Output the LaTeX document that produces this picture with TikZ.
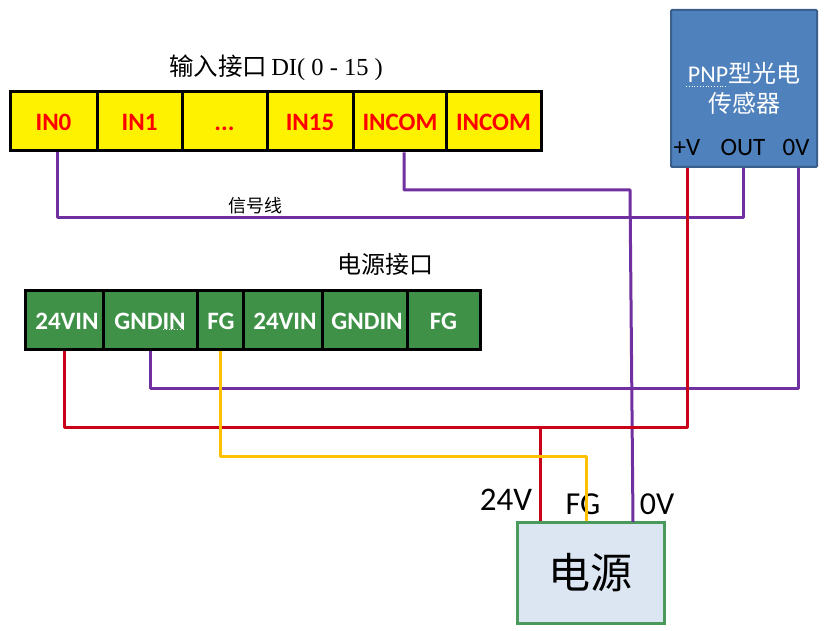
\documentclass[tikz,border=0pt]{standalone}
\usepackage{fontspec}
\setmainfont{Carlito}
\newfontfamily\cjk{Noto Sans CJK SC}
\newfontfamily\serifl{Liberation Serif}
\definecolor{wirered}{HTML}{C80018}
\definecolor{wirepurple}{HTML}{7030A0}
\definecolor{wireorange}{HTML}{FFC000}
\definecolor{cellgreen}{HTML}{3F9148}
\definecolor{sensorblue}{HTML}{4F81BD}
\definecolor{sensoredge}{HTML}{3A5F8C}
\definecolor{powerfill}{HTML}{DCE6F2}
\definecolor{poweredge}{HTML}{4A9A5C}
\tikzset{
  cellbase/.style={draw=black,line width=3pt,inner sep=0pt,minimum height=59pt,text height=19pt,text depth=0pt},
  incell/.style={cellbase,fill=yellow,text=red,font=\fontsize{25}{27}\selectfont\bfseries},
  pwcell/.style={cellbase,fill=cellgreen,text=white,font=\fontsize{25}{27}\selectfont\bfseries},
  wire/.style={line width=3pt,line join=round},
  redwire/.style={wire,draw=wirered},
  purplewire/.style={wire,draw=wirepurple},
  orangewire/.style={wire,draw=wireorange},
  cap24/.style={text=black,inner sep=0pt},
  term/.style={font=\fontsize{25}{27}\selectfont,text=black,inner sep=0pt},
  squiggle/.style={white,dotted,line width=.8pt},
}
\begin{document}
\begin{tikzpicture}[x=1pt,y=-1pt]
\useasboundingbox (0,0) rectangle (830,631);
% titles
\node[inner sep=0pt,font=\fontsize{24.5}{27}\selectfont] (titlein) at (276,68) {{\cjk 输入接口}\,{\serifl DI( 0 - 15 )}};
\node[inner sep=0pt,font=\cjk\fontsize{24}{26}\selectfont] (titlepw) at (385,264) {电源接口};
% input row
\node[incell,minimum width=87pt] (in0) at (53.5,121.5) {IN0};
\node[incell,minimum width=85pt] (in1) at (139.5,121.5) {IN1};
\node[incell,minimum width=85pt] (indots) at (224.5,121.5) {...};
\node[incell,minimum width=86pt] (in15) at (310,121.5) {IN15};
\node[incell,minimum width=94pt] (incoma) at (400,121.5) {INCOM};
\node[incell,minimum width=95pt] (incomb) at (493.5,121.5) {INCOM};
% power row
\node[pwcell,minimum width=78pt] (pa) at (64,319.5) {\hspace{6pt}24VIN};
\node[pwcell,minimum width=94pt] (pb) at (150,319.5) {GNDIN};
\node[pwcell,minimum width=46pt] (pc) at (220,319.5) {\hspace{2pt}FG};
\node[pwcell,minimum width=79pt] (pd) at (282.5,319.5) {\hspace{5pt}24VIN};
\node[pwcell,minimum width=85pt] (pe) at (364.5,319.5) {\hspace{5pt}GNDIN};
\node[pwcell,minimum width=73pt] (pf) at (443.5,319.5) {FG};
\draw[squiggle] (163,329.5) -- (185,329.5);
% sensor
\node[draw=sensoredge,fill=sensorblue,line width=2pt,minimum width=146pt,minimum height=157pt,inner sep=0pt,rounded corners=1pt] (sensor) at (744,88.5) {};
\node[inner sep=0pt,text=white,font=\fontsize{24}{26}\selectfont] (sensorname) at (744,91) {\begin{tabular}{@{}c@{}}PNP{\cjk 型光电}\\[2pt]{\cjk 传感器}\end{tabular}};
\draw[squiggle] (686,86.5) -- (728,86.5);
\node[term] (tv) at (687,147) {+V};
\node[term] (tout) at (743,147) {OUT};
\node[term] (tz) at (796,147) {0V};
% power supply
\node[draw=poweredge,fill=powerfill,line width=3pt,minimum width=147pt,minimum height=101pt,inner sep=0pt,font=\cjk\fontsize{42}{44}\selectfont] (psu) at (590.5,572.5) {电源};
\node[cap24,font=\fontsize{33}{35}\selectfont] (l24) at (506,500) {24V};
\node[cap24,font=\fontsize{32}{34}\selectfont] (lfg) at (583,504) {FG};
\node[cap24,font=\fontsize{32}{34}\selectfont] (l0v) at (657,504) {0V};
% helpers
\coordinate (redbus) at (540,427);
\coordinate (sigbus) at (57,218);
\coordinate (comtop) at (404,190);
\coordinate (combus) at (630,190);
\coordinate (gndbus) at (798,388);
\coordinate (fgbus) at (586,456);
% wires
\draw[purplewire] (sigbus |- in0.south) -- (sigbus) -- (tout |- sigbus) -- (tout |- sensor.south);
\draw[purplewire] (comtop |- incoma.south) -- (comtop) -- (combus) -- (633,522);
\draw[purplewire] (pb.south) -- (pb |- gndbus) -- (gndbus) -- (gndbus |- sensor.south);
\draw[redwire] (tv |- sensor.south) -- (tv |- redbus) -- (pa |- redbus) -- (pa.south);
\draw[redwire] (redbus) -- (redbus |- psu.north);
\draw[orangewire] (pc.south) -- (pc |- fgbus) -- (fgbus) -- (fgbus |- psu.north);
% signal label
\node[inner sep=0pt,font=\cjk\fontsize{18}{20}\selectfont] (sig) at (255,206) {信号线};
\end{tikzpicture}
\end{document}
